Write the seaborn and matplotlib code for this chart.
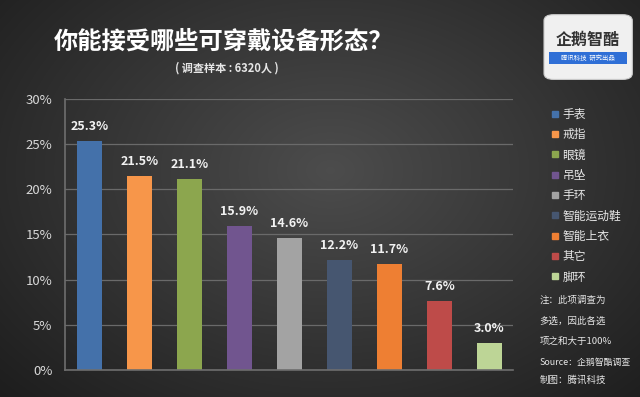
import numpy as np
import pandas as pd
import matplotlib
matplotlib.use('Agg')
import matplotlib.pyplot as plt
import seaborn as sns
from matplotlib.patches import FancyBboxPatch, Rectangle
from matplotlib.lines import Line2D

# --- datos ---
categorias = ['手表', '戒指', '眼镜', '吊坠', '手环', '智能运动鞋', '智能上衣', '其它', '脚环']
valores = [25.3, 21.5, 21.1, 15.9, 14.6, 12.2, 11.7, 7.6, 3.0]
colores = ['#4471AA', '#F7964A', '#8CA64E', '#71558F', '#A3A3A3',
           '#465670', '#EE7F33', '#BE4B49', '#BDD596']
yticks = [0, 5, 10, 15, 20, 25, 30]

df = pd.DataFrame({'cat': categorias, 'val': valores})

sns.set_theme(style='dark')
plt.rcParams['font.family'] = ['Noto Sans CJK SC', 'DejaVu Sans']

fig = plt.figure(figsize=(6.4, 3.97), dpi=100)

# fondo degradado radial
bg = fig.add_axes([0, 0, 1, 1], zorder=-10)
yy, xx = np.mgrid[0:397, 0:640]
d = np.sqrt(((xx - 330) / 420.0) ** 2 + ((yy - 170) / 300.0) ** 2)
g = np.clip(0.30 - 0.17 * d, 0.10, 0.30)
bg.imshow(np.dstack([g, g, g]), aspect='auto', extent=[0, 1, 0, 1])
bg.axis('off')

ax = fig.add_axes([0.1016, 0.068, 0.70, 0.683])
ax.set_facecolor('none')
sns.barplot(data=df, x='cat', y='val', hue='cat', palette=colores,
            width=0.5, legend=False, ax=ax, saturation=1,
            edgecolor='none', linewidth=0)

ax.set_ylim(0, 30)
ax.set_xlim(-0.49, 8.47)
ax.set_yticks(yticks)
ax.set_yticklabels([f'{t}%' for t in yticks], color='#d8d8d8', fontsize=9.5)
ax.set_xticks([])
ax.set_xlabel('')
ax.set_ylabel('')
ax.tick_params(axis='y', length=0, pad=9)
ax.grid(axis='y', color='#6a6a6a', linewidth=0.9)
ax.set_axisbelow(True)
for s in ['top', 'right']:
    ax.spines[s].set_visible(False)
for s in ['left', 'bottom']:
    ax.spines[s].set_visible(True)
    ax.spines[s].set_color('#6e6e6e')
    ax.spines[s].set_linewidth(1.2)

for i, v in enumerate(valores):
    ax.text(i, v + 0.9, f'{v:.1f}%', ha='center', va='bottom',
            color='#f2f2f2', fontsize=9, fontweight='bold')

# leyenda
handles = [Line2D([0], [0], marker='s', linestyle='', markersize=5,
                  markerfacecolor=c, markeredgecolor=c) for c in colores]
leg = fig.legend(handles, categorias, loc='upper left',
                 bbox_to_anchor=(0.842, 0.755), frameon=False,
                 fontsize=8.5, labelcolor='#e6e6e6', handletextpad=0.1,
                 handlelength=1.0, labelspacing=0.62)

# titulo
fig.text(0.35, 0.895, '你能接受哪些可穿戴设备形态？', ha='center', va='center',
         color='white', fontsize=17.5, fontweight='heavy')
fig.text(0.355, 0.829, '( 调查样本 : 6320人 )', ha='center', va='center',
         color='#e6e6e6', fontsize=8, fontweight='bold')

# notas
notas = ['注：此项调查为', '多选，因此各选', '项之和大于100%']
for k, t in enumerate(notas):
    fig.text(0.843, 0.243 - k * 0.052, t, color='#e6e6e6', fontsize=6.8,
             style='italic', va='center')
fig.text(0.843, 0.088, 'Source：企鹅智酷调查', color='#e6e6e6', fontsize=6.4,
         style='italic', va='center')
fig.text(0.843, 0.042, '制图：腾讯科技', color='#e6e6e6', fontsize=6.8,
         style='italic', va='center')

# logo
box = FancyBboxPatch((0.850, 0.80), 0.138, 0.163, boxstyle='round,pad=0,rounding_size=0.015',
                     transform=fig.transFigure, facecolor='#f0f0f0', edgecolor='#cccccc',
                     linewidth=0.8)
fig.patches.append(box)
fig.text(0.919, 0.900, '企鹅智酷', ha='center', va='center', color='#333333',
         fontsize=11.5, fontweight='bold')
fig.patches.append(Rectangle((0.858, 0.838), 0.122, 0.03, transform=fig.transFigure,
                             facecolor='#2f6fd6', edgecolor='none'))
fig.text(0.919, 0.853, '腾讯科技  研究出品', ha='center', va='center', color='white',
         fontsize=4.6, style='italic')

fig.savefig('out.png', dpi=100)
